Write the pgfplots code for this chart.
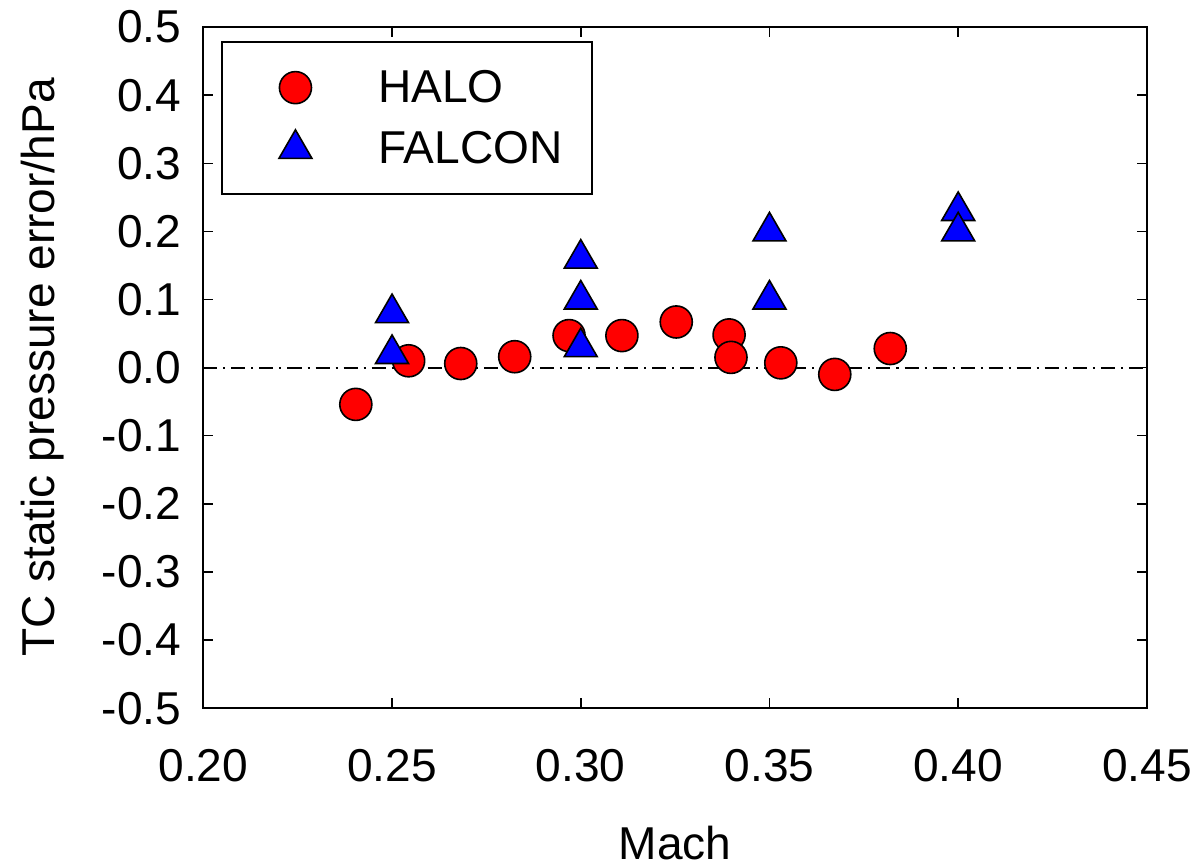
\documentclass[border=0pt]{standalone}
\usepackage{pgfplots}
\pgfplotsset{compat=1.18}
\usepackage{fontspec}
\setmainfont{Liberation Sans}
\begin{document}
\begin{tikzpicture}
\begin{axis}[name=ax, scale only axis, width=471pt, height=340pt,
  xmin=0.2, xmax=0.45, ymin=-0.5, ymax=0.5,
  xtick={0.20,0.25,0.30,0.35,0.40,0.45},
  ytick={-0.5,-0.4,-0.3,-0.2,-0.1,0,0.1,0.2,0.3,0.4,0.5},
  /pgf/number format/assume math mode=true,
  xticklabel style={/pgf/number format/fixed, /pgf/number format/fixed zerofill, /pgf/number format/precision=2, yshift=-17pt},
  yticklabel style={/pgf/number format/fixed, /pgf/number format/fixed zerofill, /pgf/number format/precision=1, xshift=-7.5pt},
  every tick label/.append style={font=\fontsize{23}{27}\selectfont},
  label style={font=\fontsize{23}{27}\selectfont},
  xlabel style={yshift=-15pt},
  ylabel style={yshift=12pt},
  tick align=inside, major tick length=5pt,
  tick style={black, line width=0.75pt},
  axis line style={line width=1pt},
  xlabel={Mach}, ylabel={TC static pressure error/hPa},
  legend image code/.code={\path (-14.5pt,0pt); \draw[mark repeat=2,mark phase=2,#1] plot coordinates {(0cm,0cm) (0.3cm,0cm) (0.6cm,0cm)};},
  legend style={at={(0.019,0.9795)}, anchor=north west, draw=black, line width=1pt,
    font=\fontsize{23}{27}\selectfont, inner xsep=13pt, inner ysep=12pt,
    row sep=9pt, /tikz/every odd column/.append style={column sep=31pt}},
  legend cell align=left,
]
\addplot[black, line width=0.9pt, dash pattern=on 7pt off 3pt on 1pt off 3pt, forget plot]
  coordinates {(0.2,0) (0.45,0)};
\addplot[only marks, mark=*, mark size=8pt, mark options={fill=red, draw=black, line width=0.8pt}]
  coordinates {
  (0.2404,-0.054) (0.2544,0.010) (0.2682,0.006) (0.2825,0.016)
  (0.2969,0.047) (0.3109,0.047) (0.3253,0.067) (0.3393,0.048)
  (0.3398,0.015) (0.3530,0.007) (0.3673,-0.010) (0.3820,0.028)};
\addlegendentry{HALO}
\addplot[only marks, mark=triangle*, mark size=9.5pt, mark options={fill=blue, draw=black, line width=0.8pt}]
  coordinates {
  (0.25,0.08) (0.25,0.02) (0.30,0.16) (0.30,0.10) (0.30,0.03)
  (0.35,0.20) (0.35,0.10) (0.40,0.23) (0.40,0.20)};
\addlegendentry{FALCON}
\end{axis}
\pgfresetboundingbox
\path (ax.south west) ++(-101.5pt,-79.5pt) coordinate (bl);
\path (ax.north east) ++(27.5pt,13.5pt) coordinate (tr);
\path[use as bounding box] (bl) rectangle (tr);
\end{tikzpicture}
\end{document}
